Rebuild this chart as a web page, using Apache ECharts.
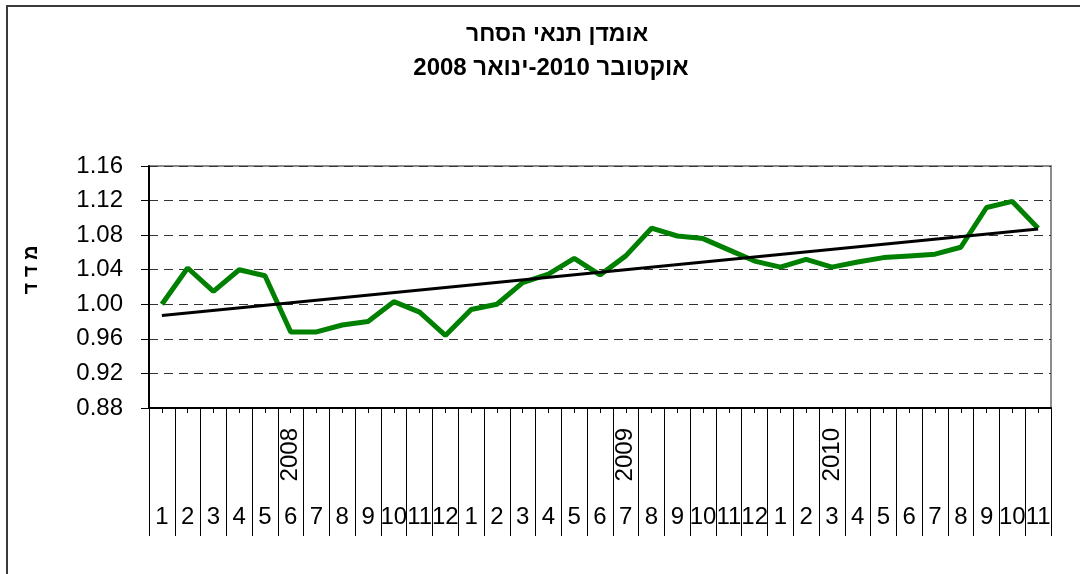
<!DOCTYPE html>
<html>
<head>
<meta charset="utf-8">
<script src="https://cdn.jsdelivr.net/npm/echarts@6/dist/echarts.min.js"></script>
<style>
html,body{margin:0;padding:0;background:#fff;}
#chart{width:1080px;height:574px;}
</style>
</head>
<body>
<div id="chart"></div>
<script>
// ---- data ----
const months = ['1','2','3','4','5','6','7','8','9','10','11','12',
                '1','2','3','4','5','6','7','8','9','10','11','12',
                '1','2','3','4','5','6','7','8','9','10','11'];
const yearLabels = ['2008','2009','2010'];
const yearLabelIndex = [5, 18, 26];
const indexValues = [1.000,1.042,1.015,1.040,1.033,0.968,0.968,0.976,0.980,1.003,0.991,0.964,
                     0.994,1.000,1.025,1.035,1.053,1.034,1.056,1.088,1.079,1.076,1.063,1.050,
                     1.043,1.052,1.043,1.049,1.054,1.056,1.058,1.066,1.112,1.119,1.088];
const trendStart = 0.987;
const trendEnd = 1.087;
const yTicks = {min: 0.88, max: 1.16, interval: 0.04};
const titleLine1 = 'אומדן תנאי הסחר';
const titleLine2 = '\u202Bאוקטובר 2010-ינואר 2008\u202C';
const yName = 'מ ד ד';

// ---- build ----
const yearCats = months.map(function(m, i){
  const k = yearLabelIndex.indexOf(i);
  return k >= 0 ? yearLabels[k] : '';
});
const trendData = months.map(function(){ return null; });
trendData[0] = trendStart;
trendData[trendData.length - 1] = trendEnd;

const FONT = "'Liberation Sans', Arial, sans-serif";
const chart = echarts.init(document.getElementById('chart'), null, {renderer: 'canvas'});
chart.setOption({
  animation: false,
  backgroundColor: '#ffffff',
  graphic: [{
    type: 'rect', shape: {x: 7, y: 6, width: 1090, height: 600},
    style: {fill: 'none', stroke: '#3a3a3a', lineWidth: 2}, silent: true, z: -10
  }],
  title: [
    {text: titleLine1, left: 552, top: 18, textAlign: 'center',
     textStyle: {fontFamily: FONT, fontWeight: 'bold', fontSize: 23, color: '#000'}},
    {text: titleLine2, left: 546, top: 51, textAlign: 'center',
     textStyle: {fontFamily: FONT, fontWeight: 'bold', fontSize: 24, color: '#000'}}
  ],
  grid: {left: 149, right: 29, top: 166, bottom: 166, show: true,
         borderColor: '#8c8c8c', borderWidth: 2, backgroundColor: 'transparent'},
  xAxis: [{
    type: 'category', data: months, boundaryGap: true, position: 'bottom',
    axisLine: {show: true, lineStyle: {color: '#000', width: 2}},
    axisTick: {show: true, interval: 0, length: 128, lineStyle: {color: '#000', width: 1}},
    axisLabel: {interval: 0, margin: 97, fontFamily: FONT, fontSize: 24, color: '#000'},
    splitLine: {show: false}
  }, {
    type: 'category', data: yearCats, boundaryGap: true, position: 'bottom',
    axisLine: {show: false},
    axisTick: {show: true, interval: 0, alignWithLabel: true, length: 5, lineStyle: {color: '#000', width: 1}},
    axisLabel: {interval: 0, rotate: 90, margin: 20, fontFamily: FONT, fontSize: 24, color: '#000'},
    splitLine: {show: false}
  }],
  yAxis: {
    type: 'value', min: yTicks.min, max: yTicks.max, interval: yTicks.interval,
    name: yName, nameLocation: 'middle', nameGap: 108,
    nameTextStyle: {fontFamily: FONT, fontWeight: 'bold', fontSize: 20, color: '#000', padding: [0, 0, 0, 34]},
    axisLine: {show: true, lineStyle: {color: '#000', width: 2}},
    axisTick: {show: true, length: 8, lineStyle: {color: '#000', width: 1}},
    axisLabel: {margin: 26, fontFamily: FONT, fontSize: 24, color: '#000',
                formatter: function(v){ return v.toFixed(2); }},
    splitLine: {show: true, lineStyle: {color: '#333', width: 1, type: [9, 6]}}
  },
  series: [{
    type: 'line', data: indexValues, xAxisIndex: 0, symbol: 'none',
    lineStyle: {color: '#008000', width: 5}, z: 3
  }, {
    type: 'line', data: trendData, xAxisIndex: 0, symbol: 'none', connectNulls: true,
    lineStyle: {color: '#000', width: 3}, z: 4
  }]
});
</script>
</body>
</html>
